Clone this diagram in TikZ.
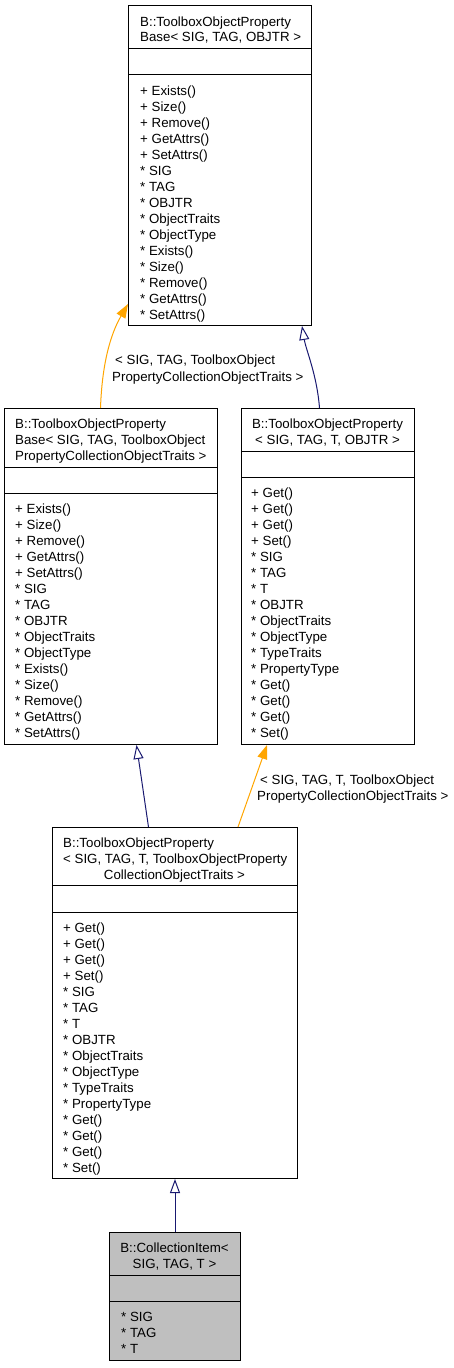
\documentclass[tikz,border=0pt]{standalone}
\usepackage{fontspec}
\setmainfont{Liberation Sans}
\usetikzlibrary{arrows.meta,calc}
\definecolor{edgeblue}{HTML}{191970}
\definecolor{edgeorange}{HTML}{FFA500}
\definecolor{boxgray}{HTML}{BFBFBF}
\newcommand{\dfont}{\fontsize{13.3}{16}\selectfont}
\begin{document}
\begin{tikzpicture}[x=1pt,y=-1pt,
 classbox/.style={draw=black, line width=1pt, inner sep=0, anchor=north west, fill=white},
 txt/.style={anchor=base west, inner sep=0, font=\dfont},
 ctxt/.style={anchor=base, inner sep=0, font=\dfont},
 sep/.style={draw=black, line width=1pt},
 inherit/.style={draw=edgeblue, line width=1pt, -{Triangle[open, length=14pt, width=10pt, fill=white]}},
 usage/.style={draw=edgeorange, line width=1pt, -{Triangle[length=14pt, width=10pt]}},
]
\useasboundingbox (0,0) rectangle (453,1368);

% boxes
\node[classbox, minimum width=183pt, minimum height=320pt] (top) at (128,5) {};
\node[classbox, minimum width=213pt, minimum height=336pt] (leftmid) at (4,408) {};
\node[classbox, minimum width=173pt, minimum height=336pt] (rightmid) at (241,408) {};
\node[classbox, minimum width=245pt, minimum height=351pt] (lower) at (52,827) {};
\node[classbox, minimum width=131pt, minimum height=128pt, fill=boxgray] (bottom) at (109,1232) {};

% separators
\draw[sep] ([yshift=-43pt]top.north west) -- ([yshift=-43pt]top.north east);
\draw[sep] ([yshift=-69pt]top.north west) -- ([yshift=-69pt]top.north east);
\draw[sep] ([yshift=-59pt]leftmid.north west) -- ([yshift=-59pt]leftmid.north east);
\draw[sep] ([yshift=-85pt]leftmid.north west) -- ([yshift=-85pt]leftmid.north east);
\draw[sep] ([yshift=-43pt]rightmid.north west) -- ([yshift=-43pt]rightmid.north east);
\draw[sep] ([yshift=-69pt]rightmid.north west) -- ([yshift=-69pt]rightmid.north east);
\draw[sep] ([yshift=-58pt]lower.north west) -- ([yshift=-58pt]lower.north east);
\draw[sep] ([yshift=-85pt]lower.north west) -- ([yshift=-85pt]lower.north east);
\draw[sep] ([yshift=-43pt]bottom.north west) -- ([yshift=-43pt]bottom.north east);
\draw[sep] ([yshift=-69pt]bottom.north west) -- ([yshift=-69pt]bottom.north east);

% top box text
\node[txt] (top-t1) at (140,26) {B::ToolboxObjectProperty};
\node[txt] (top-t2) at (140,41) {Base< SIG, TAG, OBJTR >};
\foreach \m [count=\i from 0] in {+ Exists(),+ Size(),+ Remove(),+ GetAttrs(),+ SetAttrs(),* SIG,* TAG,* OBJTR,* ObjectTraits,* ObjectType,* Exists(),* Size(),* Remove(),* GetAttrs(),* SetAttrs()}
  \node[txt] (top-m\i) at (140,{95+16*\i}) {\m};

% left middle box text
\node[txt] (lm-t1) at (15,428) {B::ToolboxObjectProperty};
\node[txt] (lm-t2) at (15,444) {Base< SIG, TAG, ToolboxObject};
\node[txt] (lm-t3) at (15,460) {PropertyCollectionObjectTraits >};
\foreach \m [count=\i from 0] in {+ Exists(),+ Size(),+ Remove(),+ GetAttrs(),+ SetAttrs(),* SIG,* TAG,* OBJTR,* ObjectTraits,* ObjectType,* Exists(),* Size(),* Remove(),* GetAttrs(),* SetAttrs()}
  \node[txt] (lm-m\i) at (15,{513+16*\i}) {\m};

% right middle box text
\node[ctxt] (rm-t1) at (327.5,428) {B::ToolboxObjectProperty};
\node[ctxt] (rm-t2) at (327.5,444) {< SIG, TAG, T, OBJTR >};
\foreach \m [count=\i from 0] in {+ Get(),+ Get(),+ Get(),+ Set(),* SIG,* TAG,* T,* OBJTR,* ObjectTraits,* ObjectType,* TypeTraits,* PropertyType,* Get(),* Get(),* Get(),* Set()}
  \node[txt] (rm-m\i) at (251,{497+16*\i}) {\m};

% lower box text
\node[txt] (lo-t1) at (63,847) {B::ToolboxObjectProperty};
\node[txt] (lo-t2) at (63,863) {< SIG, TAG, T, ToolboxObjectProperty};
\node[ctxt] (lo-t3) at (174.5,879) {CollectionObjectTraits >};
\foreach \m [count=\i from 0] in {+ Get(),+ Get(),+ Get(),+ Set(),* SIG,* TAG,* T,* OBJTR,* ObjectTraits,* ObjectType,* TypeTraits,* PropertyType,* Get(),* Get(),* Get(),* Set()}
  \node[txt] (lo-m\i) at (63,{932+16*\i}) {\m};

% bottom box text
\node[ctxt] (bo-t1) at (174.5,1252) {B::CollectionItem<};
\node[ctxt] (bo-t2) at (174.5,1268) {SIG, TAG, T >};
\foreach \m [count=\i from 0] in {* SIG,* TAG,* T}
  \node[txt] (bo-m\i) at (121,{1321+16*\i}) {\m};

% edge labels
\node[txt] (l1a) at (115,364) {< SIG, TAG, ToolboxObject};
\node[txt] (l1b) at (112,381) {PropertyCollectionObjectTraits >};
\node[txt] (l2a) at (260,784) {< SIG, TAG, T, ToolboxObject};
\node[txt] (l2b) at (257,800) {PropertyCollectionObjectTraits >};

% edges
\draw[usage] ([xshift=-10.5pt]leftmid.north) .. controls (102,365) and (110,335) .. ([yshift=22pt]top.south west);
\draw[inherit] ([xshift=-8.5pt]rightmid.north) .. controls (317,375) and (306,350) .. ([xshift=-10pt]top.south east);
\draw[inherit] ([xshift=-26.5pt]lower.north) -- ([xshift=25.5pt]leftmid.south);
\draw[usage] ([xshift=63pt]lower.north) -- ([xshift=-61pt]rightmid.south);
\draw[inherit] (bottom.north) -- (lower.south);
\end{tikzpicture}
\end{document}
